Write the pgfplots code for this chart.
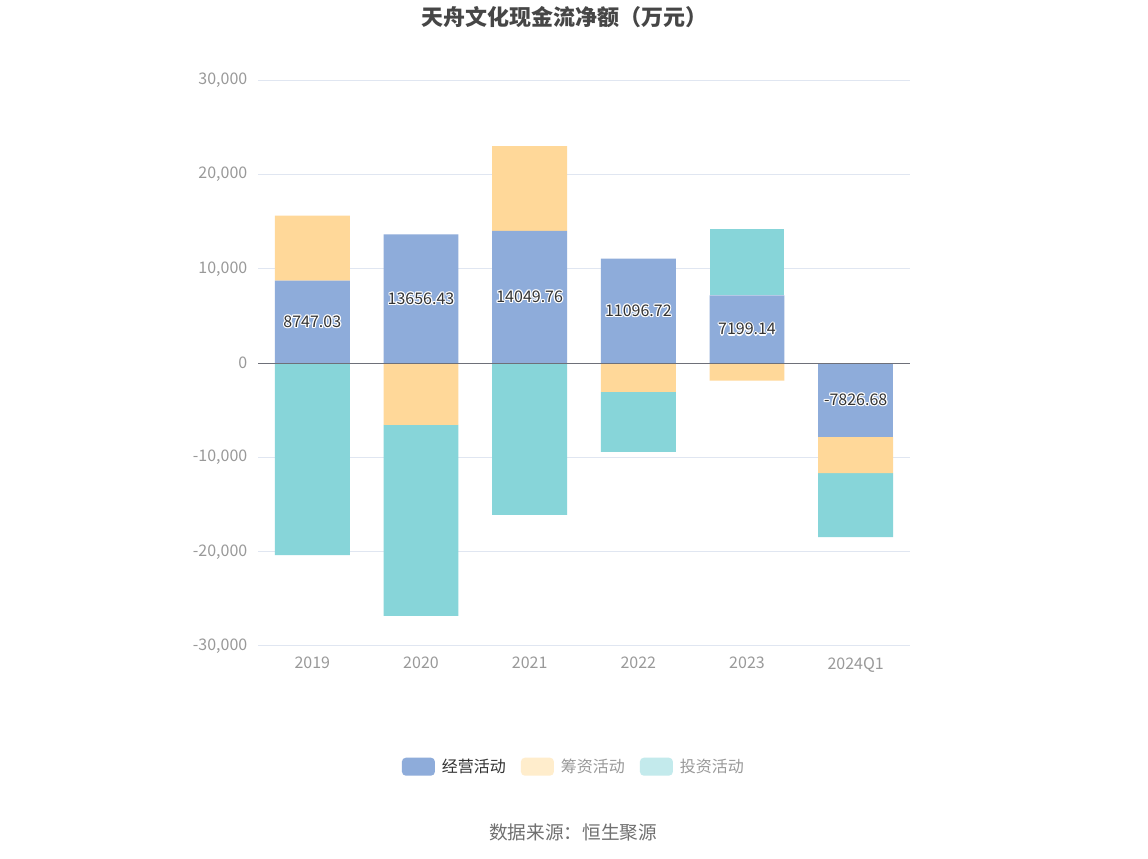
\documentclass[border=0pt]{standalone}
\usepackage{fontspec}
\setmainfont{Noto Sans CJK SC}
\usepackage{pgfplots}
\usepackage{pgfplotstable}
\pgfplotsset{compat=1.18}
\definecolor{cjy}{HTML}{8EACDA}
\definecolor{ccz}{HTML}{FFD899}
\definecolor{ctz}{HTML}{87D5D9}
\definecolor{pcz}{HTML}{FFEDCC}
\definecolor{ptz}{HTML}{C3EAEC}
\definecolor{gridc}{HTML}{E0E6F1}
\definecolor{zeroc}{HTML}{6E7079}
\definecolor{tickc}{HTML}{999999}
\definecolor{darkt}{HTML}{333333}
\definecolor{titlec}{HTML}{464646}
\definecolor{srcc}{HTML}{707070}
\newcommand\haloone[3]{\rlap{\kern#1\raise#2\hbox{\color{white}#3}}}
\newcommand\halo[1]{\hbox{\haloone{-0.9pt}{0pt}{#1}\haloone{0.9pt}{0pt}{#1}\haloone{0pt}{0.9pt}{#1}\haloone{0pt}{-0.9pt}{#1}\haloone{-.65pt}{.65pt}{#1}\haloone{.65pt}{.65pt}{#1}\haloone{-.65pt}{-.65pt}{#1}\haloone{.65pt}{-.65pt}{#1}\hbox{\color{darkt}#1}}}
\pgfplotstableread{
x jy cz tz
0 8747.03 6900 -20360
1 13656.43 -6540 -20260
2 14049.76 8990 -16090
3 11096.72 -3040 -6370
4 7199.14 -1840 7010
5 -7826.68 -3840 -6780
}\cashdata
\pgfplotsset{
  common/.style={
    at={(193.5pt,159.75pt)}, anchor=south west,
    width=489pt, height=424.2pt, scale only axis,
    xmin=-0.5, xmax=5.5, ymin=-30000, ymax=30000,
    scaled y ticks=false, scaled x ticks=false,
    axis line style={draw=none}, tick style={draw=none},
    major tick length=0pt,
  },
}
\begin{document}
\begin{tikzpicture}[x=0.75pt,y=0.75pt]
\path[fill=white] (0,0) rectangle (1148,859);
% positive stack + grid + ticks + legend
\begin{axis}[common,
  ybar stacked, bar width=0.69,
  ytick={-30000,-20000,...,30000},
  ymajorgrids, grid style={color=gridc, line width=0.75pt},
  xtick={0,...,5}, xticklabels={2019,2020,2021,2022,2023,2024Q1},
  /pgf/number format/assume math mode=true,
  /pgf/number format/.cd, fixed, 1000 sep={,}, /pgfplots/.cd,
  yticklabel style={font=\fontsize{12pt}{14pt}\selectfont, text=tickc, xshift=-4.5pt},
  xticklabel style={font=\fontsize{12pt}{14pt}\selectfont, text=tickc, yshift=-5pt},
  legend columns=3,
  legend style={at={(0.483,-0.2134)}, anchor=center, draw=none, fill=none,
    inner sep=0pt, nodes={inner sep=0pt, anchor=west},
    font=\fontsize{12pt}{14pt}\selectfont,
    /tikz/every odd column/.append style={column sep=5.25pt},
    /tikz/every even column/.append style={column sep=11.25pt}},
  legend image code/.code={\fill[rounded corners=3pt,#1] (0pt,-6.75pt) rectangle (24.75pt,6.75pt);},
]
\addplot[fill=cjy, draw=none, forget plot] table[x=x, y expr={max(\thisrow{jy},0)}] {\cashdata};
\addplot[fill=ccz, draw=none, forget plot] table[x=x, y expr={max(\thisrow{cz},0)}] {\cashdata};
\addplot[fill=ctz, draw=none, forget plot] table[x=x, y expr={max(\thisrow{tz},0)}] {\cashdata};
\addlegendimage{fill=cjy, draw=none}
\addlegendentry{\textcolor{darkt}{经营活动}}
\addlegendimage{fill=pcz, draw=none}
\addlegendentry{\textcolor{tickc}{筹资活动}}
\addlegendimage{fill=ptz, draw=none}
\addlegendentry{\textcolor{tickc}{投资活动}}
\end{axis}
% negative stack
\begin{axis}[common, ybar stacked, bar width=0.69, xtick=\empty, ytick=\empty]
\addplot[fill=cjy, draw=none] table[x=x, y expr={min(\thisrow{jy},0)}] {\cashdata};
\addplot[fill=ccz, draw=none] table[x=x, y expr={min(\thisrow{cz},0)}] {\cashdata};
\addplot[fill=ctz, draw=none] table[x=x, y expr={min(\thisrow{tz},0)}] {\cashdata};
\end{axis}
% zero line and labels
\begin{axis}[common, xtick=\empty, ytick={0}, yticklabels={}, ymajorgrids,
  grid style={color=zeroc, line width=0.9pt}]
\addplot[only marks, mark=none, point meta=explicit symbolic,
  nodes near coords={\halo{\pgfplotspointmeta}},
  nodes near coords style={anchor=center, font=\fontsize{12pt}{14pt}\selectfont}]
  table[x=x, y expr={\thisrow{jy}/2}, meta=jy] {\cashdata};
\end{axis}
\node[font=\bfseries\fontsize{16.5pt}{18pt}\selectfont, text=titlec] at (564,842) {天舟文化现金流净额（万元）};
\node[font=\fontsize{14pt}{16pt}\selectfont, text=srcc] at (573,27) {数据来源：恒生聚源};
\end{tikzpicture}
\end{document}
